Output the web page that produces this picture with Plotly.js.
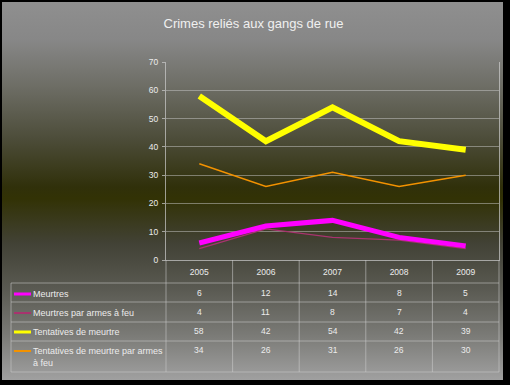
<!DOCTYPE html>
<html>
<head>
<meta charset="utf-8">
<script src="https://cdn.plot.ly/plotly-3.0.1.min.js"></script>
<style>
  html, body { margin: 0; padding: 0; background: #000; }
  #frame { position: absolute; left: 0; top: 0; width: 510px; height: 385px; background: #000; }
  #bg { position: absolute; left: 2px; top: 2px; width: 501px; height: 378px;
        background: linear-gradient(to bottom, #8f8f8f 0%, #878787 10%, #6e6e66 22%, #4d4d3a 36%, #30300a 49%, #323205 52%, #424236 64%, #5a5a52 76%, #7a7a76 88%, #a0a0a0 100%); }
  #chart { position: absolute; left: 0; top: 0; width: 510px; height: 385px; }
</style>
</head>
<body>
<div id="frame"><div id="bg"></div><div id="chart"></div></div>
<script>
const years = ['2005', '2006', '2007', '2008', '2009'];
const seriesNames = ['Meurtres', 'Meurtres par armes à feu', 'Tentatives de meurtre', 'Tentatives de meurtre par armes<br>à feu'];
const meurtres = [6, 12, 14, 8, 5];
const meurtresArmes = [4, 11, 8, 7, 4];
const tentatives = [58, 42, 54, 42, 39];
const tentativesArmes = [34, 26, 31, 26, 30];

const seriesValues = [meurtres, meurtresArmes, tentatives, tentativesArmes];
const colors = ['#ff00ff', '#a8336e', '#ffff00', '#f39200'];
const widths = [5, 1.3, 6, 1.5];
const keyWidths = [3, 2, 3, 2];

// plot area geometry (px)
const W = 510, H = 385;
const L = 166, R = 499, T = 62, B = 260;
const py = p => (B - p) / (B - T);   // pixel y -> paper y
const px = p => (p - L) / (R - L);   // pixel x -> paper x
const colCenter = j => (j + 0.5) / years.length;  // category column centre in paper x

const rowLines = [283, 302, 322, 341, 372];
const rowText = [293, 312, 331, 350];
const tableLeft = 11;
const lineCol = 'rgba(205,205,205,0.55)';
const txtCol = '#ececec';
const fontFam = 'Liberation Sans, Arial, sans-serif';

const drawOrder = [3, 1, 2, 0];
const traces = drawOrder.map(i => ({
  x: years, y: seriesValues[i], type: 'scatter', mode: 'lines',
  name: seriesNames[i], line: { color: colors[i], width: widths[i] },
  hoverinfo: 'skip'
}));

const shapes = [];
const annotations = [];
// horizontal table lines
rowLines.forEach(r => shapes.push({ type: 'line', xref: 'paper', yref: 'paper',
  x0: px(tableLeft), x1: 1, y0: py(r), y1: py(r), line: { color: lineCol, width: 1 } }));
// left table edge
shapes.push({ type: 'line', xref: 'paper', yref: 'paper', x0: px(tableLeft), x1: px(tableLeft),
  y0: py(rowLines[0]), y1: py(rowLines[rowLines.length - 1]), line: { color: lineCol, width: 1 } });
// vertical column lines (category boundaries)
for (let k = 0; k <= years.length; k++) {
  shapes.push({ type: 'line', xref: 'paper', yref: 'paper', x0: k / years.length, x1: k / years.length,
    y0: 0, y1: py(rowLines[rowLines.length - 1]), line: { color: lineCol, width: 1 } });
}
// legend keys and labels, values
seriesValues.forEach((vals, i) => {
  shapes.push({ type: 'line', xref: 'paper', yref: 'paper', x0: px(14), x1: px(31),
    y0: py(rowText[i] + 1), y1: py(rowText[i] + 1), line: { color: colors[i], width: keyWidths[i] } });
  annotations.push({ xref: 'paper', yref: 'paper', x: px(31), y: py(rowText[i] - 6),
    xanchor: 'left', yanchor: 'top', align: 'left', showarrow: false, text: seriesNames[i],
    font: { family: fontFam, size: 9, color: txtCol } });
  vals.forEach((v, j) => annotations.push({ xref: 'paper', yref: 'paper', x: colCenter(j), y: py(rowText[i]),
    xanchor: 'center', yanchor: 'middle', showarrow: false, text: String(v),
    font: { family: fontFam, size: 8.5, color: txtCol } }));
});

const layout = {
  width: W, height: H,
  paper_bgcolor: 'rgba(0,0,0,0)', plot_bgcolor: 'rgba(0,0,0,0)',
  margin: { l: L, r: W - R, t: T, b: H - B, pad: 0 },
  title: { text: 'Crimes reliés aux gangs de rue', x: 0.497, xanchor: 'center', y: 0.94, yanchor: 'middle',
    font: { family: fontFam, size: 13, color: '#f0f0f0' } },
  showlegend: false,
  xaxis: { type: 'category', range: [-0.5, 4.5], showgrid: false, zeroline: false,
    showline: true, linecolor: 'rgba(205,205,205,0.7)', linewidth: 1, ticks: '',
    ticklabelstandoff: 4, tickfont: { family: fontFam, size: 8.5, color: txtCol }, fixedrange: true },
  yaxis: { range: [0, 70], dtick: 10, showgrid: true, gridcolor: 'rgba(200,200,200,0.5)', gridwidth: 1,
    zeroline: false, showline: true, mirror: true, linecolor: 'rgba(205,205,205,0.7)', linewidth: 1,
    ticks: 'outside', ticklen: 3, tickcolor: 'rgba(205,205,205,0.7)',
    tickfont: { family: fontFam, size: 8.5, color: txtCol }, ticklabelstandoff: 2, fixedrange: true },
  shapes: shapes, annotations: annotations
};

Plotly.newPlot('chart', traces, layout, { displayModeBar: false, staticPlot: true });
</script>
</body>
</html>
